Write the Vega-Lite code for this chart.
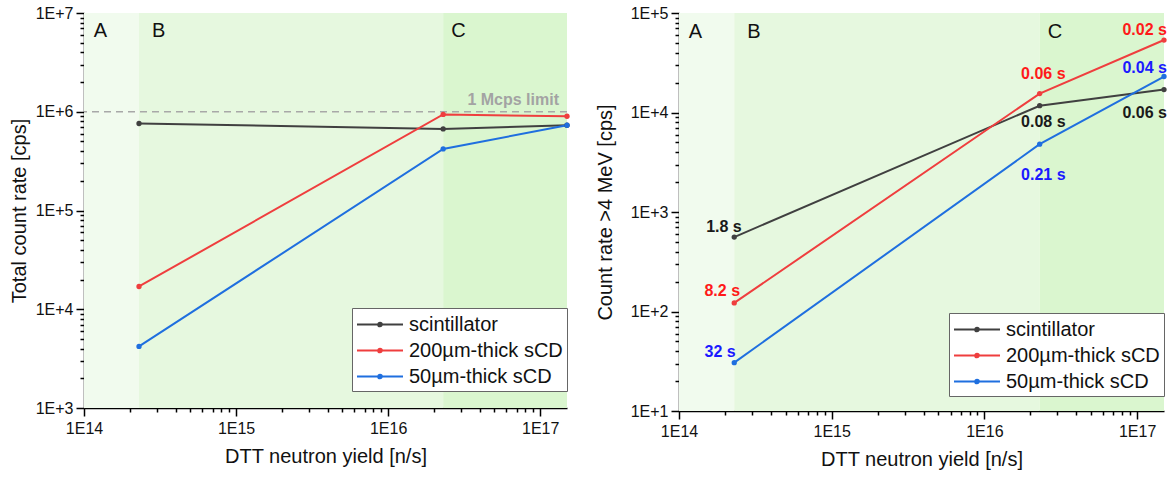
{
  "$schema": "https://vega.github.io/schema/vega-lite/v6.json",
  "background": "white",
  "padding": {"left": 9, "top": 5, "right": 2, "bottom": 4},
  "bounds": "flush",
  "spacing": 112,
  "config": {
    "view": {"stroke": null},
    "font": "Liberation Sans",
    "axis": {
      "domainColor": "black", "domainWidth": 1.5,
      "tickColor": "black", "tickWidth": 1.5,
      "labelFont": "Liberation Sans", "labelFontSize": 16, "labelColor": "#111",
      "titleFont": "Liberation Sans", "titleFontSize": 20, "titleFontWeight": "normal", "titleColor": "#111",
      "grid": false, "labelOverlap": false, "labelFlush": false, "labelBound": false
    },
    "legend": {
      "orient": "none", "title": null,
      "fillColor": "white", "strokeColor": "#666", "padding": 4,
      "labelFontSize": 20, "labelFont": "Liberation Sans", "labelColor": "#111", "labelLimit": 300,
      "symbolType": "M-1,0H3M1.16,0A0.16,0.16,0,1,1,0.84,0A0.16,0.16,0,1,1,1.16,0",
      "symbolSize": 529, "symbolStrokeWidth": 2, "rowPadding": 3, "labelOffset": 28
    },
    "text": {"font": "Liberation Sans"}
  },
  "resolve": {"scale": {"color": "independent", "fill": "independent"}, "legend": {"color": "independent"}},
  "datasets": {
    "regions": [
      {"zone": "A", "from": 1e14, "to": 2.3e14, "labelAt": 1.28e14},
      {"zone": "B", "from": 2.3e14, "to": 2.3e16, "labelAt": 3.1e14},
      {"zone": "C", "from": 2.3e16, "to": 1.5e17, "labelAt": 2.9e16}
    ],
    "limit": [{"rate": 1e6, "label": "1 Mcps limit"}],
    "total": [
      {"series": "scintillator", "yield": 2.3e14, "rate": 7.6e5},
      {"series": "scintillator", "yield": 2.3e16, "rate": 6.7e5},
      {"series": "scintillator", "yield": 1.5e17, "rate": 7.3e5},
      {"series": "200µm-thick sCD", "yield": 2.3e14, "rate": 1.7e4},
      {"series": "200µm-thick sCD", "yield": 2.3e16, "rate": 9.4e5},
      {"series": "200µm-thick sCD", "yield": 1.5e17, "rate": 9.0e5},
      {"series": "50µm-thick sCD", "yield": 2.3e14, "rate": 4.2e3},
      {"series": "50µm-thick sCD", "yield": 2.3e16, "rate": 4.2e5},
      {"series": "50µm-thick sCD", "yield": 1.5e17, "rate": 7.3e5}
    ],
    "gt4": [
      {"series": "scintillator", "yield": 2.3e14, "rate": 560},
      {"series": "scintillator", "yield": 2.3e16, "rate": 1.17e4},
      {"series": "scintillator", "yield": 1.5e17, "rate": 1.7e4},
      {"series": "200µm-thick sCD", "yield": 2.3e14, "rate": 122},
      {"series": "200µm-thick sCD", "yield": 2.3e16, "rate": 1.55e4},
      {"series": "200µm-thick sCD", "yield": 1.5e17, "rate": 5.35e4},
      {"series": "50µm-thick sCD", "yield": 2.3e14, "rate": 30.6},
      {"series": "50µm-thick sCD", "yield": 2.3e16, "rate": 4.8e3},
      {"series": "50µm-thick sCD", "yield": 1.5e17, "rate": 2.3e4}
    ],
    "times": [
      {"series": "scintillator", "yield": 1.97e14, "rate": 711, "text": "1.8 s"},
      {"series": "200µm-thick sCD", "yield": 1.92e14, "rate": 161, "text": "8.2 s"},
      {"series": "50µm-thick sCD", "yield": 1.86e14, "rate": 39.2, "text": "32 s"},
      {"series": "200µm-thick sCD", "yield": 2.43e16, "rate": 2.42e4, "text": "0.06 s"},
      {"series": "scintillator", "yield": 2.43e16, "rate": 8.1e3, "text": "0.08 s"},
      {"series": "50µm-thick sCD", "yield": 2.43e16, "rate": 2.38e3, "text": "0.21 s"},
      {"series": "200µm-thick sCD", "yield": 1.12e17, "rate": 6.7e4, "text": "0.02 s"},
      {"series": "50µm-thick sCD", "yield": 1.12e17, "rate": 2.77e4, "text": "0.04 s"},
      {"series": "scintillator", "yield": 1.12e17, "rate": 1.0e4, "text": "0.06 s"}
    ]
  },
  "hconcat": [
    {
      "width": 483,
      "height": 395,
      "layer": [
        {
          "data": {"name": "regions"},
          "mark": {"type": "rect"},
          "encoding": {
            "x": {"field": "from", "type": "quantitative", "title": "DTT neutron yield [n/s]", "scale": {"type": "log", "domain": [1e14, 1.5e17], "nice": false}},
            "x2": {"field": "to"},
            "fill": {"field": "zone", "type": "nominal", "scale": {"domain": ["A", "B", "C"], "range": ["#f1fbee", "#e6f8df", "#daf6cf"]}, "legend": null}
          }
        },
        {
          "data": {"name": "regions"},
          "mark": {"type": "text", "fontSize": 20, "baseline": "middle", "align": "center", "dy": 18, "color": "#111"},
          "encoding": {
            "x": {"field": "labelAt", "type": "quantitative", "title": "DTT neutron yield [n/s]", "scale": {"type": "log", "domain": [1e14, 1.5e17], "nice": false}},
            "y": {"datum": 1e7, "type": "quantitative", "title": "Total count rate [cps]", "scale": {"type": "log", "domain": [1e3, 1e7], "nice": false}},
            "text": {"field": "zone"}
          }
        },
        {
          "data": {"name": "limit"},
          "mark": {"type": "rule", "color": "#a8a8a8", "strokeDash": [7, 5], "strokeWidth": 1.5},
          "encoding": {
            "y": {"field": "rate", "type": "quantitative", "title": "Total count rate [cps]", "scale": {"type": "log", "domain": [1e3, 1e7], "nice": false}}
          }
        },
        {
          "data": {"name": "limit"},
          "mark": {"type": "text", "align": "right", "baseline": "bottom", "dx": -8, "dy": -4, "fontWeight": "bold", "fontSize": 16, "color": "#a3a3a3"},
          "encoding": {
            "x": {"datum": 1.5e17, "type": "quantitative", "title": "DTT neutron yield [n/s]", "scale": {"type": "log", "domain": [1e14, 1.5e17], "nice": false}},
            "y": {"field": "rate", "type": "quantitative", "title": "Total count rate [cps]", "scale": {"type": "log", "domain": [1e3, 1e7], "nice": false}},
            "text": {"field": "label"}
          }
        },
        {
          "data": {"name": "total"},
          "mark": {"type": "line", "strokeWidth": 2, "point": {"filled": true, "size": 28}},
          "encoding": {
            "x": {
              "field": "yield", "type": "quantitative", "title": "DTT neutron yield [n/s]",
              "scale": {"type": "log", "domain": [1e14, 1.5e17], "nice": false},
              "axis": {
                "values": [1e14, 2e14, 3e14, 4e14, 5e14, 6e14, 7e14, 8e14, 9e14, 1e15, 2e15, 3e15, 4e15, 5e15, 6e15, 7e15, 8e15, 9e15, 1e16, 2e16, 3e16, 4e16, 5e16, 6e16, 7e16, 8e16, 9e16, 1e17],
                "labelExpr": "abs(log(datum.value)/LN10 - round(log(datum.value)/LN10)) < 0.001 ? '1E' + round(log(datum.value)/LN10) : ''",
                "tickSize": {"condition": {"test": "abs(log(datum.value)/LN10 - round(log(datum.value)/LN10)) < 0.001", "value": 8}, "value": 4},
                "labelPadding": 4, "titlePadding": 10
              }
            },
            "y": {
              "field": "rate", "type": "quantitative", "title": "Total count rate [cps]",
              "scale": {"type": "log", "domain": [1e3, 1e7], "nice": false},
              "axis": {
                "values": [1e3, 2e3, 3e3, 4e3, 5e3, 6e3, 7e3, 8e3, 9e3, 1e4, 2e4, 3e4, 4e4, 5e4, 6e4, 7e4, 8e4, 9e4, 1e5, 2e5, 3e5, 4e5, 5e5, 6e5, 7e5, 8e5, 9e5, 1e6, 2e6, 3e6, 4e6, 5e6, 6e6, 7e6, 8e6, 9e6, 1e7],
                "labelExpr": "abs(log(datum.value)/LN10 - round(log(datum.value)/LN10)) < 0.001 ? '1E+' + round(log(datum.value)/LN10) : ''",
                "tickSize": {"condition": {"test": "abs(log(datum.value)/LN10 - round(log(datum.value)/LN10)) < 0.001", "value": 8}, "value": 4},
                "labelPadding": 3, "titlePadding": 6
              }
            },
            "color": {
              "field": "series", "type": "nominal",
              "scale": {"domain": ["scintillator", "200µm-thick sCD", "50µm-thick sCD"], "range": ["#404040", "#ef3e3e", "#1f6fdf"]},
              "legend": {"legendX": 268, "legendY": 295}
            }
          }
        }
      ]
    },
    {
      "width": 485,
      "height": 398,
      "resolve": {"scale": {"fill": "independent"}},
      "layer": [
        {
          "data": {"name": "regions"},
          "mark": {"type": "rect"},
          "encoding": {
            "x": {"field": "from", "type": "quantitative", "title": "DTT neutron yield [n/s]", "scale": {"type": "log", "domain": [1e14, 1.5e17], "nice": false}},
            "x2": {"field": "to"},
            "fill": {"field": "zone", "type": "nominal", "scale": {"domain": ["A", "B", "C"], "range": ["#f1fbee", "#e6f8df", "#daf6cf"]}, "legend": null}
          }
        },
        {
          "data": {"name": "regions"},
          "mark": {"type": "text", "fontSize": 20, "baseline": "middle", "align": "center", "dy": 19, "color": "#111"},
          "encoding": {
            "x": {"field": "labelAt", "type": "quantitative", "title": "DTT neutron yield [n/s]", "scale": {"type": "log", "domain": [1e14, 1.5e17], "nice": false}},
            "y": {"datum": 1e5, "type": "quantitative", "title": "Count rate >4 MeV [cps]", "scale": {"type": "log", "domain": [10, 1e5], "nice": false}},
            "text": {"field": "zone"}
          }
        },
        {
          "data": {"name": "gt4"},
          "mark": {"type": "line", "strokeWidth": 2, "point": {"filled": true, "size": 28}},
          "encoding": {
            "x": {
              "field": "yield", "type": "quantitative", "title": "DTT neutron yield [n/s]",
              "scale": {"type": "log", "domain": [1e14, 1.5e17], "nice": false},
              "axis": {
                "values": [1e14, 2e14, 3e14, 4e14, 5e14, 6e14, 7e14, 8e14, 9e14, 1e15, 2e15, 3e15, 4e15, 5e15, 6e15, 7e15, 8e15, 9e15, 1e16, 2e16, 3e16, 4e16, 5e16, 6e16, 7e16, 8e16, 9e16, 1e17],
                "labelExpr": "abs(log(datum.value)/LN10 - round(log(datum.value)/LN10)) < 0.001 ? '1E' + round(log(datum.value)/LN10) : ''",
                "tickSize": {"condition": {"test": "abs(log(datum.value)/LN10 - round(log(datum.value)/LN10)) < 0.001", "value": 8}, "value": 4},
                "labelPadding": 4, "titlePadding": 10
              }
            },
            "y": {
              "field": "rate", "type": "quantitative", "title": "Count rate >4 MeV [cps]",
              "scale": {"type": "log", "domain": [10, 1e5], "nice": false},
              "axis": {
                "values": [10, 20, 30, 40, 50, 60, 70, 80, 90, 100, 200, 300, 400, 500, 600, 700, 800, 900, 1000, 2000, 3000, 4000, 5000, 6000, 7000, 8000, 9000, 1e4, 2e4, 3e4, 4e4, 5e4, 6e4, 7e4, 8e4, 9e4, 1e5],
                "labelExpr": "abs(log(datum.value)/LN10 - round(log(datum.value)/LN10)) < 0.001 ? '1E+' + round(log(datum.value)/LN10) : ''",
                "tickSize": {"condition": {"test": "abs(log(datum.value)/LN10 - round(log(datum.value)/LN10)) < 0.001", "value": 8}, "value": 4},
                "labelPadding": 3, "titlePadding": 15
              }
            },
            "color": {
              "field": "series", "type": "nominal",
              "scale": {"domain": ["scintillator", "200µm-thick sCD", "50µm-thick sCD"], "range": ["#404040", "#ef3e3e", "#1f6fdf"]},
              "legend": {"legendX": 270, "legendY": 300}
            }
          }
        },
        {
          "data": {"name": "times"},
          "mark": {"type": "text", "fontSize": 16, "fontWeight": "bold", "align": "center", "baseline": "middle"},
          "encoding": {
            "x": {"field": "yield", "type": "quantitative", "title": "DTT neutron yield [n/s]", "scale": {"type": "log", "domain": [1e14, 1.5e17], "nice": false}},
            "y": {"field": "rate", "type": "quantitative", "title": "Count rate >4 MeV [cps]", "scale": {"type": "log", "domain": [10, 1e5], "nice": false}},
            "text": {"field": "text"},
            "fill": {"field": "series", "type": "nominal", "scale": {"domain": ["scintillator", "200µm-thick sCD", "50µm-thick sCD"], "range": ["#1a1a1a", "#ff1a1a", "#1a1aff"]}, "legend": null}
          }
        }
      ]
    }
  ]
}
